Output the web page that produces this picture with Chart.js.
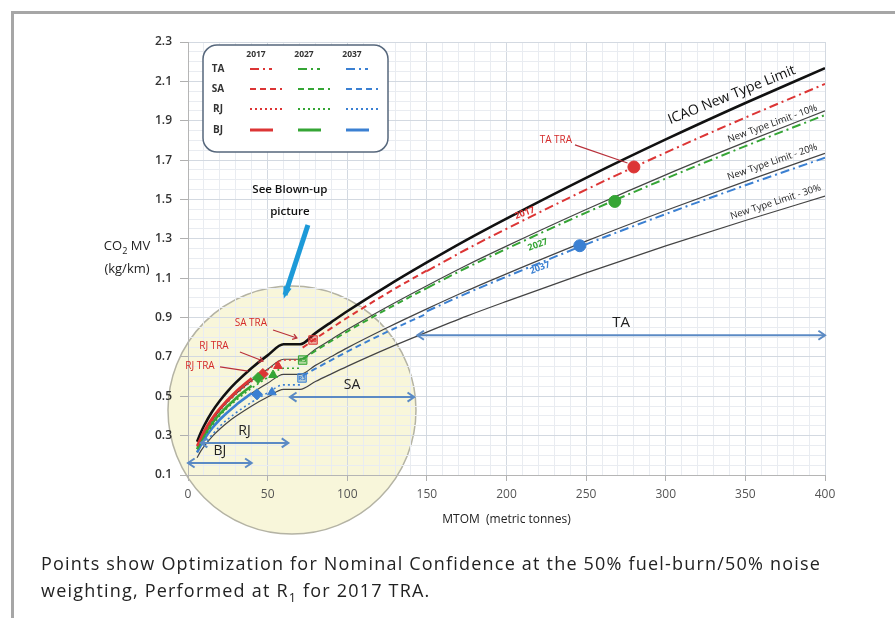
<!DOCTYPE html>
<html>
<head>
<meta charset="utf-8">
<title>CO2 MV vs MTOM</title>
<script src="https://cdn.jsdelivr.net/npm/chart.js@4.4.0/dist/chart.umd.min.js"></script>
<style>
  html, body { margin: 0; padding: 0; background: #fff; }
  #wrap { position: relative; width: 895px; height: 618px; overflow: hidden; font-family: "Open Sans", sans-serif; color: #222; }
  #frame { position: absolute; left: 11px; top: 11px; width: 900px; height: 620px; border-left: 3px solid #a6a6a6; border-top: 3px solid #a6a6a6; }
  #co2 { position: absolute; left: 0; top: 0; }
  #ytitle { position: absolute; left: 96px; top: 234px; width: 62px; text-align: center; font-size: 13px; line-height: 23px; color: #222; }
  #caption { position: absolute; left: 41px; top: 550px; font-size: 18px; letter-spacing: 1.2px; line-height: 27px; color: #222; white-space: nowrap; }
  sub { font-size: 70%; line-height: 0; }
</style>
</head>
<body>
<div id="wrap">
  <div id="frame"></div>
  <canvas id="co2" width="895" height="618"></canvas>
  <div id="ytitle">CO<sub>2</sub> MV<br>(kg/km)</div>
  <div id="caption">Points show Optimization for Nominal Confidence at the 50% fuel-burn/50% noise<br>weighting, Performed at R<sub>1</sub> for 2017 TRA.</div>
</div>
<script>
// axis ticks
const xTicks = [0, 50, 100, 150, 200, 250, 300, 350, 400];
const yTicks = [0.1, 0.3, 0.5, 0.7, 0.9, 1.1, 1.3, 1.5, 1.7, 1.9, 2.1, 2.3];

// ICAO new type limit and the -10 / -20 / -30 % lines
const limitX = [5.7, 8, 10, 15, 20, 25, 30, 40, 50, 60, 70.4, 80, 90, 100, 125, 150, 175, 200, 250, 300, 350, 400];
const limitY = [0.269, 0.315, 0.349, 0.420, 0.477, 0.526, 0.569, 0.644, 0.708, 0.764, 0.764, 0.821, 0.877, 0.932, 1.060, 1.180, 1.295, 1.403, 1.610, 1.805, 1.990, 2.167];
const limit10Y = [0.242, 0.284, 0.314, 0.378, 0.429, 0.473, 0.512, 0.580, 0.637, 0.688, 0.688, 0.739, 0.789, 0.839, 0.954, 1.062, 1.166, 1.263, 1.449, 1.625, 1.791, 1.950];
const limit20Y = [0.215, 0.252, 0.279, 0.336, 0.382, 0.421, 0.455, 0.515, 0.566, 0.611, 0.611, 0.657, 0.702, 0.746, 0.848, 0.944, 1.036, 1.122, 1.288, 1.444, 1.592, 1.734];
const limit30Y = [0.188, 0.221, 0.244, 0.294, 0.334, 0.368, 0.398, 0.451, 0.496, 0.535, 0.535, 0.575, 0.614, 0.652, 0.742, 0.826, 0.907, 0.982, 1.127, 1.264, 1.393, 1.517];

// technology lines per aircraft class, years 2017 / 2027 / 2037
const years = ['2017', '2027', '2037'];
const taX = [150, 175, 200, 250, 300, 350, 400];
const ta2017 = [1.136, 1.247, 1.351, 1.550, 1.738, 1.916, 2.087];
const ta2027 = [1.050, 1.153, 1.249, 1.433, 1.606, 1.771, 1.929];
const ta2037 = [0.932, 1.023, 1.108, 1.272, 1.426, 1.572, 1.712];
const saX = [72, 80, 90, 100, 125, 150];
const sa2017 = [0.747, 0.792, 0.846, 0.899, 1.023, 1.139];
const sa2027 = [0.689, 0.731, 0.781, 0.829, 0.943, 1.050];
const sa2037 = [0.604, 0.640, 0.684, 0.727, 0.827, 0.920];
const rjX = [10, 20, 30, 40, 50, 60, 70.4];
const rj2017 = [0.312, 0.427, 0.509, 0.576, 0.634, 0.684, 0.684];
const rj2027 = [0.293, 0.401, 0.478, 0.541, 0.595, 0.642, 0.642];
const rj2037 = [0.255, 0.348, 0.415, 0.470, 0.517, 0.558, 0.558];
const bjX = [5.7, 10, 15, 20, 30, 40];
const bj2017 = [0.247, 0.321, 0.386, 0.439, 0.523, 0.592];
const bj2027 = [0.231, 0.300, 0.361, 0.410, 0.489, 0.554];
const bj2037 = [0.215, 0.279, 0.336, 0.382, 0.455, 0.515];

// optimised points
const traX = [280, 268, 246];
const traY = [1.665, 1.490, 1.265];
const triX = [56.5, 53.4, 52.7];
const triY = [0.654, 0.608, 0.520];
const diaX = [47, 44, 43.3];
const diaY = [0.613, 0.593, 0.510];
const r3X = [78.5, 72, 71.6];
const r3Y = [0.786, 0.684, 0.593];

// class range arrows
const rangeLabels = ['TA', 'SA', 'RJ', 'BJ'];
const rangeStart = [144, 64, 8, 0];
const rangeEnd = [400, 142, 63, 40];
const rangeY = [0.81, 0.496, 0.263, 0.161];

const yearColors = ['#dc3535', '#35a535', '#3b80d2'];
const classStyle = {
  TA: { dash: [9, 4, 2, 4], width: 2 },
  SA: { dash: [6, 4], width: 2 },
  RJ: { dash: [2, 3], width: 1.6 },
  BJ: { dash: [], width: 2.6 }
};

const pts = (xs, ys) => xs.map((x, i) => ({ x: x, y: ys[i] }));

const datasets = [];
const addLimit = (ys, color, width, order) => datasets.push({
  type: 'line', data: pts(limitX, ys), borderColor: color, borderWidth: width,
  pointRadius: 0, cubicInterpolationMode: 'monotone', order: order
});
addLimit(limitY, '#111', 2.6, 3);
addLimit(limit10Y, '#444', 1.2, 4);
addLimit(limit20Y, '#444', 1.2, 4);
addLimit(limit30Y, '#444', 1.2, 4);

const classes = [
  ['TA', taX, [ta2017, ta2027, ta2037]],
  ['SA', saX, [sa2017, sa2027, sa2037]],
  ['RJ', rjX, [rj2017, rj2027, rj2037]],
  ['BJ', bjX, [bj2017, bj2027, bj2037]]
];
classes.forEach(([name, xs, series]) => {
  series.forEach((ys, k) => {
    datasets.push({
      type: 'line', data: pts(xs, ys), borderColor: yearColors[k],
      borderWidth: classStyle[name].width, borderDash: classStyle[name].dash,
      pointRadius: 0, cubicInterpolationMode: 'monotone', order: 2
    });
  });
});

const addMarkers = (xs, ys, style, radius, fill) => datasets.push({
  type: 'scatter', data: pts(xs, ys), pointStyle: style, pointRadius: radius,
  backgroundColor: fill || yearColors, borderColor: yearColors, borderWidth: 1, order: 0
});
addMarkers(traX, traY, 'circle', 6);
addMarkers(triX, triY, 'triangle', 5);
addMarkers(diaX, diaY, 'rectRot', 5.5);
addMarkers(r3X, r3Y, 'rect', 6, ['rgba(220,53,53,0.35)', 'rgba(53,165,53,0.35)', 'rgba(59,128,210,0.35)']);

// text and arrows placed on the data scales
const notes = [
  { text: 'ICAO New Type Limit', x: 341.5, y: 2.03, rot: -22, font: '14px "Open Sans"', color: '#111' },
  { text: 'New Type Limit - 10%', x: 367, y: 1.885, rot: -20, font: '9.5px "Open Sans"', color: '#222' },
  { text: 'New Type Limit - 20%', x: 367, y: 1.69, rot: -19, font: '9.5px "Open Sans"', color: '#222' },
  { text: 'New Type Limit - 30%', x: 369, y: 1.487, rot: -18, font: '9.5px "Open Sans"', color: '#222' },
  { text: '2017', x: 211.5, y: 1.431, rot: -20, font: 'bold 9px "Open Sans"', color: yearColors[0] },
  { text: '2027', x: 219.7, y: 1.269, rot: -20, font: 'bold 9px "Open Sans"', color: yearColors[1] },
  { text: '2037', x: 221, y: 1.152, rot: -20, font: 'bold 9px "Open Sans"', color: yearColors[2] },
  { text: 'TA TRA', x: 231, y: 1.802, rot: 0, font: '10px "Open Sans"', color: '#d42a2a' },
  { text: 'SA TRA', x: 39.5, y: 0.872, rot: 0, font: '10px "Open Sans"', color: '#d42a2a' },
  { text: 'RJ TRA', x: 16.3, y: 0.755, rot: 0, font: '10px "Open Sans"', color: '#d42a2a' },
  { text: 'RJ TRA', x: 7.5, y: 0.654, rot: 0, font: '10px "Open Sans"', color: '#d42a2a' },
  { text: 'See Blown-up', x: 64, y: 1.548, rot: 0, font: '600 11.5px "Open Sans"', color: '#111' },
  { text: 'picture', x: 64, y: 1.436, rot: 0, font: '600 11.5px "Open Sans"', color: '#111' }
];
const pointers = [
  { x0: 243, y0: 1.777, x1: 276, y1: 1.685, color: '#b8303a', width: 1.2, head: 0 },
  { x0: 53.4, y0: 0.837, x1: 68.4, y1: 0.796, color: '#b8303a', width: 1.2, head: 5 },
  { x0: 32.6, y0: 0.725, x1: 47.1, y1: 0.679, color: '#b8303a', width: 1.2, head: 5 },
  { x0: 20.1, y0: 0.649, x1: 37.7, y1: 0.628, color: '#b8303a', width: 1.2, head: 0 },
  { x0: 75.3, y0: 1.37, x1: 60.9, y1: 1.015, color: '#1d9ad8', width: 5, head: 9 }
];
const blowUp = { x: 65.3, y: 0.43, r: 124 };

function drawHead(ctx, xa, ya, xb, yb, size) {
  const a = Math.atan2(yb - ya, xb - xa);
  ctx.beginPath();
  ctx.moveTo(xb - size * Math.cos(a - 0.6), yb - size * Math.sin(a - 0.6));
  ctx.lineTo(xb, yb);
  ctx.lineTo(xb - size * Math.cos(a + 0.6), yb - size * Math.sin(a + 0.6));
  ctx.stroke();
}

const extras = {
  id: 'extras',
  beforeDraw(chart) {
    // the yellow "blown-up" circle under the grid
    const ctx = chart.ctx, sx = chart.scales.x, sy = chart.scales.y;
    ctx.save();
    ctx.beginPath();
    ctx.arc(sx.getPixelForValue(blowUp.x), sy.getPixelForValue(blowUp.y), blowUp.r, 0, Math.PI * 2);
    ctx.fillStyle = '#f8f6da';
    ctx.fill();
    ctx.lineWidth = 1.5;
    ctx.strokeStyle = '#b4b3a4';
    ctx.stroke();
    ctx.restore();
  },
  afterDatasetsDraw(chart) {
    const ctx = chart.ctx, sx = chart.scales.x, sy = chart.scales.y;
    ctx.save();
    // range arrows
    ctx.strokeStyle = '#5b8ac4';
    ctx.lineWidth = 2;
    rangeLabels.forEach((lab, i) => {
      const a = sx.getPixelForValue(rangeStart[i]), b = sx.getPixelForValue(rangeEnd[i]);
      const y = sy.getPixelForValue(rangeY[i]);
      ctx.beginPath(); ctx.moveTo(a, y); ctx.lineTo(b, y); ctx.stroke();
      drawHead(ctx, b, y, a, y, 8);
      drawHead(ctx, a, y, b, y, 8);
      ctx.fillStyle = '#222';
      ctx.font = (lab === 'TA' ? '15px' : '14px') + ' "Open Sans"';
      ctx.textAlign = 'center';
      ctx.textBaseline = 'bottom';
      ctx.fillText(lab, (a + b) / 2, y - 5);
    });
    // pointer lines
    pointers.forEach(p => {
      const xa = sx.getPixelForValue(p.x0), ya = sy.getPixelForValue(p.y0);
      const xb = sx.getPixelForValue(p.x1), yb = sy.getPixelForValue(p.y1);
      ctx.strokeStyle = p.color;
      ctx.lineWidth = p.width;
      ctx.beginPath(); ctx.moveTo(xa, ya); ctx.lineTo(xb, yb); ctx.stroke();
      if (p.head) {
        if (p.width > 3) {
          const a = Math.atan2(yb - ya, xb - xa);
          ctx.fillStyle = p.color;
          ctx.beginPath();
          ctx.moveTo(xb + 4 * Math.cos(a), yb + 4 * Math.sin(a));
          ctx.lineTo(xb - p.head * Math.cos(a - 0.5), yb - p.head * Math.sin(a - 0.5));
          ctx.lineTo(xb - p.head * Math.cos(a + 0.5), yb - p.head * Math.sin(a + 0.5));
          ctx.closePath(); ctx.fill();
        } else {
          drawHead(ctx, xa, ya, xb, yb, p.head);
        }
      }
    });
    // R3 tags
    ctx.font = 'bold 6px "Open Sans"';
    ctx.textAlign = 'center';
    ctx.textBaseline = 'middle';
    r3X.forEach((x, i) => {
      ctx.fillStyle = yearColors[i];
      ctx.fillText('R3', sx.getPixelForValue(x), sy.getPixelForValue(r3Y[i]));
    });
    // labels
    notes.forEach(n => {
      ctx.save();
      ctx.translate(sx.getPixelForValue(n.x), sy.getPixelForValue(n.y));
      ctx.rotate(n.rot * Math.PI / 180);
      ctx.font = n.font;
      ctx.fillStyle = n.color;
      ctx.textAlign = 'center';
      ctx.textBaseline = 'middle';
      ctx.fillText(n.text, 0, 0);
      ctx.restore();
    });
    ctx.restore();
  },
  afterDraw(chart) {
    // legend box: classes x years
    const ctx = chart.ctx, left = chart.chartArea.left + 15, top = chart.chartArea.top + 3;
    ctx.save();
    ctx.beginPath();
    ctx.roundRect(left, top, 185, 107, 14);
    ctx.fillStyle = '#fff';
    ctx.fill();
    ctx.lineWidth = 1.5;
    ctx.strokeStyle = '#56677c';
    ctx.stroke();
    ctx.fillStyle = '#333';
    ctx.textAlign = 'center';
    ctx.textBaseline = 'middle';
    ctx.font = 'bold 8.5px "Open Sans"';
    years.forEach((yr, k) => ctx.fillText(yr, left + 53 + k * 48, top + 10));
    const rowY = [24, 44, 64, 85];
    const lens = { TA: 22, SA: 32, RJ: 32, BJ: 23 };
    Object.keys(classStyle).forEach((name, r) => {
      ctx.fillStyle = '#333';
      ctx.font = 'bold 10px "Open Sans"';
      ctx.fillText(name, left + 15, top + rowY[r]);
      years.forEach((yr, k) => {
        const x0 = left + 47 + k * 48;
        ctx.strokeStyle = yearColors[k];
        ctx.lineWidth = name === 'BJ' ? 3 : 2.2;
        ctx.setLineDash(classStyle[name].dash);
        ctx.beginPath();
        ctx.moveTo(x0, top + rowY[r]);
        ctx.lineTo(x0 + lens[name], top + rowY[r]);
        ctx.stroke();
      });
      ctx.setLineDash([]);
    });
    ctx.restore();
  }
};

const xMinor = [];
for (let v = 0; v <= 400; v += 10) xMinor.push(v);
const yMinor = [];
for (let v = 10; v <= 230; v += 5) yMinor.push(v / 100);
const isMajorY = v => yTicks.some(t => Math.abs(t - v) < 1e-6);
const isMajorX = v => xTicks.includes(v);

new Chart(document.getElementById('co2'), {
  type: 'scatter',
  data: { datasets: datasets },
  plugins: [extras],
  options: {
    responsive: false,
    animation: false,
    layout: { padding: { left: 144, right: 70, top: 42, bottom: 87 } },
    plugins: { legend: { display: false }, tooltip: { enabled: false } },
    elements: { line: { fill: false } },
    scales: {
      x: {
        type: 'linear', min: 0, max: 400,
        afterBuildTicks: s => { s.ticks = xMinor.map(v => ({ value: v })); },
        afterFit: s => { s.height = 56; },
        ticks: {
          autoSkip: false, maxRotation: 0, padding: 6,
          color: '#555', font: { family: '"Open Sans"', size: 12 },
          callback: v => isMajorX(v) ? String(v) : ''
        },
        grid: {
          color: c => isMajorX(c.tick.value) ? '#d3d9e1' : '#e9ecf1',
          tickColor: c => isMajorX(c.tick.value) ? '#b0b0b0' : 'rgba(0,0,0,0)',
          tickLength: 6
        },
        border: { color: '#b5b5b5' },
        title: {
          display: true, text: 'MTOM  (metric tonnes)', color: '#222',
          font: { family: '"Open Sans"', size: 12 }
        }
      },
      y: {
        type: 'linear', min: 0.1, max: 2.3,
        afterBuildTicks: s => { s.ticks = yMinor.map(v => ({ value: v })); },
        afterFit: s => { s.width = 44; },
        ticks: {
          autoSkip: false, padding: 8,
          color: '#333', font: { family: '"Open Sans"', size: 12, weight: '600' },
          callback: v => isMajorY(v) ? v.toFixed(1) : ''
        },
        grid: {
          color: c => isMajorY(c.tick.value) ? '#d3d9e1' : '#e9ecf1',
          tickColor: c => isMajorY(c.tick.value) ? '#b0b0b0' : 'rgba(0,0,0,0)',
          tickLength: 8
        },
        border: { color: '#b5b5b5' }
      }
    }
  }
});
</script>
</body>
</html>
